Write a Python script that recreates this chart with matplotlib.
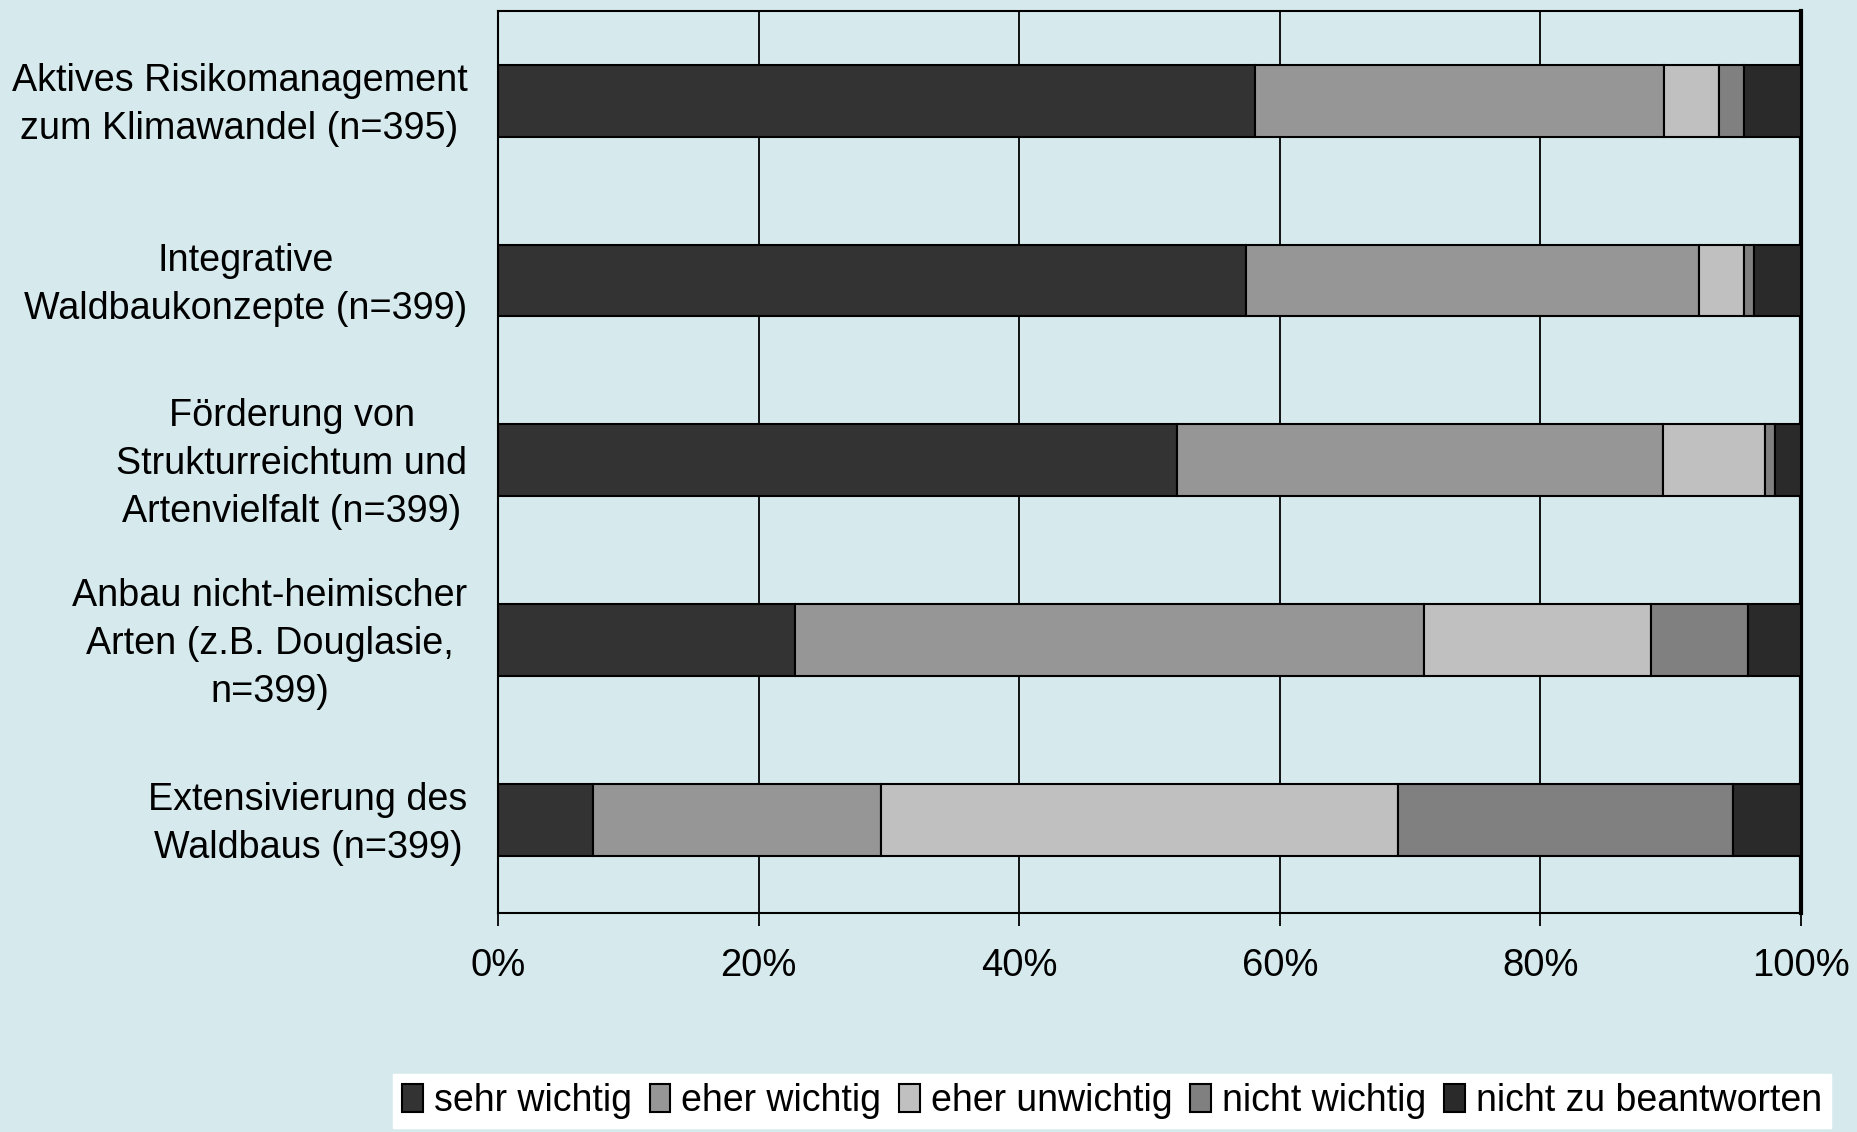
import matplotlib
matplotlib.use("Agg")
import matplotlib.pyplot as plt
import matplotlib.transforms as mtransforms
import numpy as np

plt.rcParams['font.family'] = ['Liberation Sans', 'DejaVu Sans']

categories = [
    "Aktives Risikomanagement\nzum Klimawandel (n=395)",
    "Integrative\nWaldbaukonzepte (n=399)",
    "Förderung von\nStrukturreichtum und\nArtenvielfalt (n=399)",
    "Anbau nicht-heimischer\nArten (z.B. Douglasie,\nn=399)",
    "Extensivierung des\nWaldbaus (n=399)",
]
series_names = ["sehr wichtig", "eher wichtig", "eher unwichtig",
                "nicht wichtig", "nicht zu beantworten"]
sehr_wichtig = [58.1, 57.4, 52.1, 22.8, 7.3]
eher_wichtig = [31.4, 34.8, 37.3, 48.3, 22.1]
eher_unwichtig = [4.2, 3.4, 7.8, 17.4, 39.7]
nicht_wichtig = [1.9, 0.8, 0.8, 7.4, 25.7]
nicht_zu_beantworten = [4.4, 3.6, 2.0, 4.1, 5.2]
x_ticks = [0, 20, 40, 60, 80, 100]

colors = ['#333333', '#969696', '#c0c0c0', '#808080', '#2a2a2a']
bg = '#d6eaee'

fig = plt.figure(figsize=(18.58, 11.32), dpi=100, facecolor=bg)
ax = fig.add_axes([498/1858, 1-913/1132, (1801-498)/1858, (913-11)/1132])
ax.set_facecolor(bg)

pos = np.arange(len(categories))
left = np.zeros(len(categories))
data = [sehr_wichtig, eher_wichtig, eher_unwichtig, nicht_wichtig, nicht_zu_beantworten]
for name, vals, c in zip(series_names, data, colors):
    ax.barh(pos, vals, left=left, height=0.4, color=c, edgecolor='black',
            linewidth=1.5, label=name, zorder=3)
    left = left + np.array(vals)

ax.set_xlim(0, 100)
ax.set_ylim(4.52, -0.5)
ax.set_xticks(x_ticks)
ax.set_xticklabels([f"{t}%" for t in x_ticks], fontsize=27.5)
ax.xaxis.grid(True, color='black', linewidth=1.3, zorder=0)
ax.set_axisbelow(True)
ax.tick_params(axis='x', length=9, width=1.3, pad=16, direction='out')
ax.tick_params(axis='y', length=0, pad=22)
ax.set_yticks(pos)
ax.set_yticklabels(categories, fontsize=27.2, multialignment='center', linespacing=1.43)
# nudge the category labels up a little
shift = mtransforms.ScaledTranslation(0, 6/100, fig.dpi_scale_trans)
for lab in ax.get_yticklabels():
    lab.set_transform(lab.get_transform() + shift)
for sp in ax.spines.values():
    sp.set_linewidth(1.5)
    sp.set_color('black')
ax.spines['right'].set_linewidth(3)

leg = fig.legend(loc='center', bbox_to_anchor=(1112/1858, 1-1101/1132), ncol=5,
                 fontsize=27, frameon=True, fancybox=False, facecolor='white',
                 edgecolor='white', framealpha=1, handlelength=0.55, handleheight=0.8,
                 handletextpad=0.3, columnspacing=0.47, borderpad=0.25)
for h in leg.legend_handles:
    h.set_linewidth(1.5)

fig.savefig("out.png", dpi=100, facecolor=bg)
